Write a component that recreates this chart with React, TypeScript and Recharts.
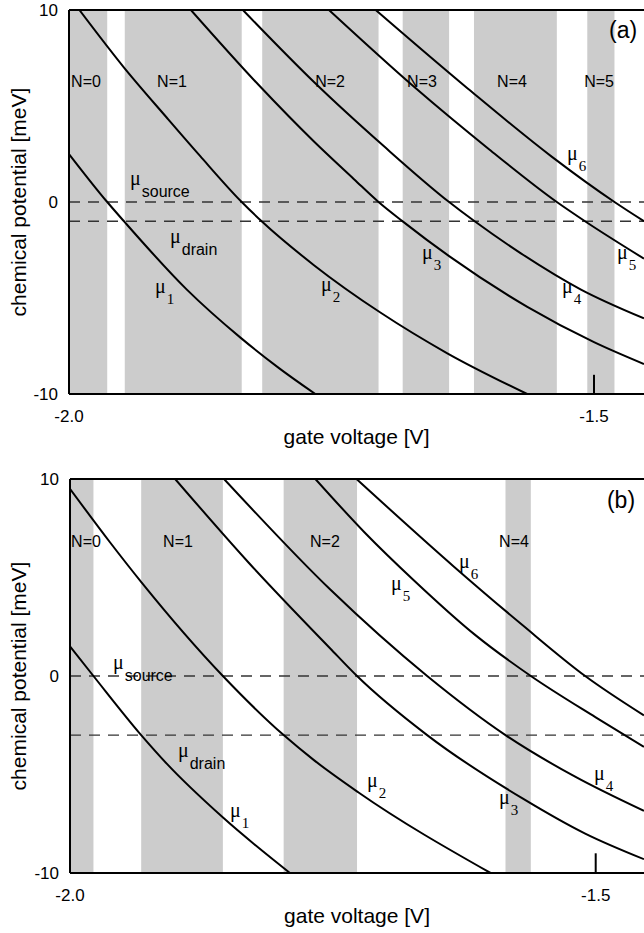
import React from 'react';
import { LineChart, Line, XAxis, YAxis, ReferenceArea, ReferenceLine, ReferenceDot } from 'recharts';

const SANS = '"Liberation Sans", Arial, Helvetica, sans-serif';
const SERIF = '"Liberation Serif", "Times New Roman", serif';

// ---------- panel (a) ----------
const bandFromA = [-2.0, -1.9469, -1.816, -1.6822, -1.6143, -1.5064];
const bandToA = [-1.9636, -1.8355, -1.7052, -1.638, -1.5354, -1.4805];
const bandNameA = ['N=0', 'N=1', 'N=2', 'N=3', 'N=4', 'N=5'];
const bandLabelVA = [-1.9838, -1.9019, -1.7514, -1.6638, -1.5781, -1.4952];

const mu1V_a = [-2.0, -1.9636, -1.9469, -1.888, -1.837, -1.8, -1.7654];
const mu1E_a = [2.5, 0, -1.05, -4.55, -7.05, -8.65, -10];
const mu2V_a = [-1.9901, -1.9476, -1.907, -1.8752, -1.8355, -1.816, -1.7667, -1.7031, -1.6397, -1.5637];
const mu2E_a = [10, 7.0, 4.4, 2.4, 0, -1.03, -3.29, -5.77, -7.88, -10];
const mu3V_a = [-1.8839, -1.82, -1.7667, -1.7286, -1.7052, -1.6822, -1.638, -1.5635, -1.5, -1.4524];
const mu3E_a = [10, 6.13, 3.15, 1.19, 0, -1.01, -2.82, -5.46, -7.3, -8.44];
const mu4V_a = [-1.8344, -1.7667, -1.7, -1.638, -1.6143, -1.57, -1.5124, -1.4524];
const mu4E_a = [10, 6.25, 2.9, 0, -0.98, -2.66, -4.56, -6.06];
const mu5V_a = [-1.7524, -1.6714, -1.6, -1.5354, -1.5064, -1.4524];
const mu5E_a = [10, 6.0, 2.75, 0, -1.08, -2.95];
const mu6V_a = [-1.7079, -1.62, -1.54, -1.4805, -1.4524];
const mu6E_a = [10, 5.9, 2.35, 0, -1.0];

const levelsA = [0, -1]; // source, drain

const tagName = ['source', 'drain', '1', '2', '3', '4', '5', '6'];
const tagV_a = [-1.9419, -1.9038, -1.9181, -1.76, -1.6638, -1.5305, -1.4781, -1.5257];
const tagE_a = [0.9, -2.15, -4.75, -4.65, -2.95, -4.75, -2.95, 2.2];

// ---------- panel (b) ----------
const bandFromB = [-2.0, -1.9323, -1.7968, -1.5858];
const bandToB = [-1.9777, -1.8546, -1.727, -1.5617];
const bandNameB = ['N=0', 'N=1', 'N=2', 'N=4'];
const bandLabelVB = [-1.9848, -1.8973, -1.7575, -1.5777];

const mu1V_b = [-2.0, -1.9777, -1.9323, -1.908, -1.8542, -1.7908];
const mu1E_b = [1.5, 0, -3, -4.45, -7.2, -10];
const mu2V_b = [-2.0, -1.962, -1.9318, -1.8546, -1.7968, -1.768, -1.7259, -1.6];
const mu2E_b = [9.5, 6.79, 4.74, 0, -3, -4.27, -5.9, -10];
const mu3V_b = [-1.9, -1.83, -1.7527, -1.727, -1.6603, -1.57, -1.51, -1.4541];
const mu3E_b = [10, 5.75, 1.41, 0, -3, -6.2, -8.0, -9.3];
const mu4V_b = [-1.8535, -1.7527, -1.6603, -1.5858, -1.52, -1.4541];
const mu4E_b = [10, 4.4, 0, -3, -5.1, -6.85];
const mu5V_b = [-1.7666, -1.72, -1.6728, -1.615, -1.5617, -1.5, -1.4541];
const mu5E_b = [10, 7.3, 4.85, 2.1, 0, -2.1, -3.6];
const mu6V_b = [-1.7275, -1.6348, -1.57, -1.51, -1.4541];
const mu6E_b = [10, 5.55, 2.6, 0, -2.0];

const levelsB = [0, -3];

const tagV_b = [-1.9591, -1.8973, -1.8478, -1.7175, -1.592, -1.5016, -1.6947, -1.63];
const tagE_b = [0.33, -4.1, -7.14, -5.62, -6.48, -5.26, 4.39, 5.46];

const xTicks = [-2.0, -1.5];
const yTicks = [-10, 0, 10];

const pts = (vs: number[], es: number[]) => vs.map((v, i) => ({ v, mu: es[i] }));

const XTick = (props: any) => {
  const { x, y, payload } = props;
  return (
    <text x={x} y={y + 28} textAnchor="middle" fontFamily={SANS} fontSize={17} fill="#000">
      {Number(payload.value).toFixed(1)}
    </text>
  );
};

const YTick = (props: any) => {
  const { x, y, payload } = props;
  return (
    <text x={x - 11} y={y + 6} textAnchor="end" fontFamily={SANS} fontSize={17} fill="#000">
      {payload.value}
    </text>
  );
};

const XTitle = (props: any) => {
  const { viewBox } = props;
  return (
    <text x={viewBox.x + viewBox.width / 2} y={viewBox.y + 49.5} textAnchor="middle" fontFamily={SANS} fontSize={21} fill="#000">
      gate voltage [V]
    </text>
  );
};

const YTitle = (props: any) => {
  const { viewBox } = props;
  const cy = viewBox.y + viewBox.height / 2;
  return (
    <text x={25.5} y={cy} transform={`rotate(-90 25.5 ${cy})`} textAnchor="middle" fontFamily={SANS} fontSize={21} fill="#000">
      chemical potential [meV]
    </text>
  );
};

const MuTag = (props: any) => {
  const { viewBox, name } = props;
  const digit = /^\d$/.test(name);
  return (
    <text x={viewBox.x} y={viewBox.y} fill="#000">
      <tspan fontFamily={SERIF} fontSize={20}>μ</tspan>
      <tspan dx={1} dy={digit ? 11 : 12} fontFamily={digit ? SERIF : SANS} fontSize={digit ? 15 : 16}>
        {name}
      </tspan>
    </text>
  );
};

const BandName = (props: any) => {
  const { viewBox, text } = props;
  return (
    <text x={viewBox.x} y={viewBox.y} textAnchor="middle" fontFamily={SANS} fontSize={16} fill="#000">
      {text}
    </text>
  );
};

const Letter = (props: any) => {
  const { viewBox, text } = props;
  return (
    <text x={viewBox.x} y={viewBox.y} fontFamily={SANS} fontSize={23} fill="#000">
      {text}
    </text>
  );
};

interface PanelProps {
  height: number;
  marginTop: number;
  axisWidth: number;
  xAxisHeight: number;
  xMax: number;
  bandFrom: number[];
  bandTo: number[];
  bandNames: string[];
  bandLabelV: number[];
  bandLabelE: number;
  curves: { v: number; mu: number }[][];
  levels: number[];
  tagV: number[];
  tagE: number[];
  letter: string;
  letterV: number;
  letterE: number;
}

function Panel(p: PanelProps) {
  return (
    <LineChart width={644} height={p.height} margin={{ top: p.marginTop, right: 0, bottom: 0, left: 0 }}>
      {p.bandFrom.map((x1, i) => (
        <ReferenceArea key={`band-${i}`} x1={x1} x2={p.bandTo[i]} y1={-10} y2={10} fill="#cccccc" fillOpacity={1} stroke="none" />
      ))}
      <XAxis
        dataKey="v"
        type="number"
        domain={[-2.0, p.xMax]}
        allowDataOverflow
        ticks={xTicks}
        tickLine={false}
        tickSize={0}
        tickMargin={0}
        axisLine={{ stroke: '#000', strokeWidth: 2 }}
        tick={<XTick />}
        height={p.xAxisHeight}
        label={<XTitle />}
      />
      <YAxis
        type="number"
        domain={[-10, 10]}
        allowDataOverflow
        ticks={yTicks}
        tickLine={false}
        tickSize={0}
        tickMargin={0}
        axisLine={{ stroke: '#000', strokeWidth: 2 }}
        tick={<YTick />}
        width={p.axisWidth}
        label={<YTitle />}
      />
      <ReferenceLine y={10} stroke="#000" strokeWidth={2} />
      {p.levels.map((lv) => (
        <ReferenceLine key={`lv-${lv}`} y={lv} stroke="#333" strokeWidth={1.4} strokeDasharray="11 8" />
      ))}
      <ReferenceLine segment={[{ x: -1.5, y: -10 }, { x: -1.5, y: -9 }]} stroke="#000" strokeWidth={2} />
      {p.curves.map((c, i) => (
        <Line
          key={`mu-${i}`}
          data={c}
          dataKey="mu"
          type="monotone"
          stroke="#000"
          strokeWidth={2}
          dot={false}
          activeDot={false}
          isAnimationActive={false}
        />
      ))}
      {p.bandNames.map((t, i) => (
        <ReferenceDot key={`bn-${i}`} x={p.bandLabelV[i]} y={p.bandLabelE} r={0} fill="none" stroke="none" label={<BandName text={t} />} />
      ))}
      {tagName.map((t, i) => (
        <ReferenceDot key={`tag-${i}`} x={p.tagV[i]} y={p.tagE[i]} r={0} fill="none" stroke="none" label={<MuTag name={t} />} />
      ))}
      <ReferenceDot x={p.letterV} y={p.letterE} r={0} fill="none" stroke="none" label={<Letter text={p.letter} />} />
    </LineChart>
  );
}

export default function App() {
  const curvesA = [
    pts(mu1V_a, mu1E_a),
    pts(mu2V_a, mu2E_a),
    pts(mu3V_a, mu3E_a),
    pts(mu4V_a, mu4E_a),
    pts(mu5V_a, mu5E_a),
    pts(mu6V_a, mu6E_a),
  ];
  const curvesB = [
    pts(mu1V_b, mu1E_b),
    pts(mu2V_b, mu2E_b),
    pts(mu3V_b, mu3E_b),
    pts(mu4V_b, mu4E_b),
    pts(mu5V_b, mu5E_b),
    pts(mu6V_b, mu6E_b),
  ];

  return (
    <div style={{ position: 'absolute', left: 0, top: 0, width: 644, height: 933, background: '#fff', overflow: 'hidden' }}>
      <Panel
        height={470}
        marginTop={10}
        axisWidth={69}
        xAxisHeight={76}
        xMax={-1.45238}
        bandFrom={bandFromA}
        bandTo={bandToA}
        bandNames={bandNameA}
        bandLabelV={bandLabelVA}
        bandLabelE={6.0}
        curves={curvesA}
        levels={levelsA}
        tagV={tagV_a}
        tagE={tagE_a}
        letter="(a)"
        letterV={-1.4857}
        letterE={8.52}
      />
      <Panel
        height={463}
        marginTop={9}
        axisWidth={70}
        xAxisHeight={60}
        xMax={-1.45406}
        bandFrom={bandFromB}
        bandTo={bandToB}
        bandNames={bandNameB}
        bandLabelV={bandLabelVB}
        bandLabelE={6.55}
        curves={curvesB}
        levels={levelsB}
        tagV={tagV_b}
        tagE={tagE_b}
        letter="(b)"
        letterV={-1.4893}
        letterE={8.53}
      />
    </div>
  );
}
